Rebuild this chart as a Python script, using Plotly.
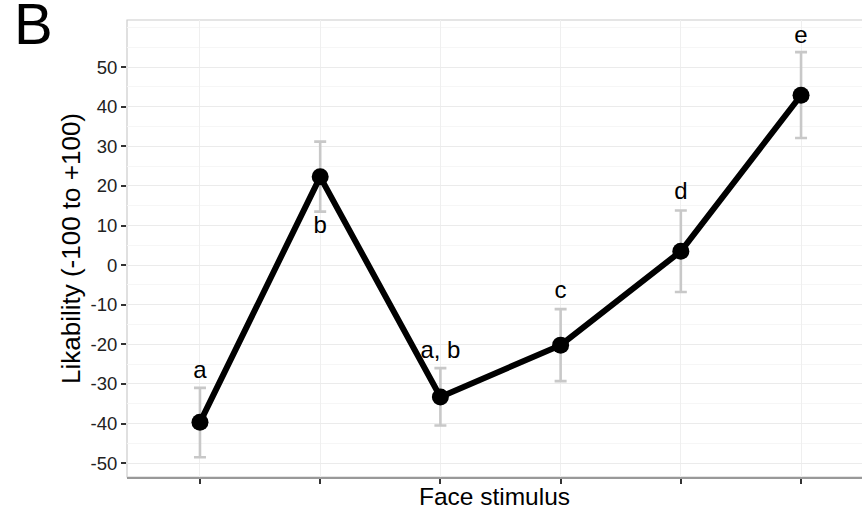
import plotly.graph_objects as go

stimulus = [1, 2, 3, 4, 5, 6]
likability = [-39.7, 22.3, -33.3, -20.2, 3.5, 42.9]
err_plus = [8.7, 8.9, 7.3, 9.1, 10.3, 10.9]
err_minus = [8.8, 8.8, 7.2, 9.1, 10.3, 10.8]
letters = ["a", "b", "a, b", "c", "d", "e"]
letter_y = [-27.0, 9.6, -22.0, -6.8, 18.2, 57.5]

FONT = "Liberation Sans, Arial, Helvetica, sans-serif"

fig = go.Figure()

fig.add_trace(go.Scatter(
    x=stimulus, y=likability, mode="markers",
    marker=dict(size=0.1, color="rgba(0,0,0,0)"),
    error_y=dict(type="data", array=err_plus, arrayminus=err_minus,
                 color="#c8c8c8", thickness=2.6, width=6),
    showlegend=False, hoverinfo="skip"))

fig.add_trace(go.Scatter(
    x=stimulus, y=likability, mode="lines+markers",
    line=dict(color="black", width=6),
    marker=dict(size=17, color="black"),
    showlegend=False))

fig.add_trace(go.Scatter(
    x=stimulus, y=letter_y, mode="text", text=letters,
    textfont=dict(family=FONT, size=24, color="black"),
    textposition="middle center", showlegend=False, hoverinfo="skip"))

fig.add_shape(type="rect", xref="paper", yref="paper", x0=0, x1=1.01, y0=0, y1=1,
              line=dict(color="#cccccc", width=1.2), layer="below")

fig.update_layout(
    width=862, height=512,
    margin=dict(l=127, r=0, t=20, b=35),
    paper_bgcolor="white", plot_bgcolor="white",
    font=dict(family=FONT, color="black"),
    xaxis=dict(range=[0.393, 6.507], tickvals=stimulus, showticklabels=False,
               ticks="outside", ticklen=5, tickwidth=1.5, tickcolor="#333333",
               showgrid=True, gridcolor="#efefef", gridwidth=1,
               showline=True, linecolor="#999999", linewidth=1.5,
               zeroline=False,
               title=dict(text="Face stimulus", font=dict(size=24.5, color="black"),
                          standoff=5)),
    yaxis=dict(range=[-53.5, 61.9], tickvals=[-50, -40, -30, -20, -10, 0, 10, 20, 30, 40, 50],
               ticktext=["-50", "-40", "-30", "-20", "-10", "0", "10", "20", "30", "40", "50"],
               tickfont=dict(size=18.5, color="#222222"),
               ticks="outside", ticklen=5, tickwidth=1.5, tickcolor="#333333",
               showgrid=True, gridcolor="#ebebeb", gridwidth=1,
               minor=dict(dtick=5, tick0=0, showgrid=True, gridcolor="#f6f6f6", gridwidth=1),
               zeroline=False, showline=False,
               title=dict(text="Likability (-100 to +100)", font=dict(size=26, color="black"),
                          standoff=2)),
    annotations=[dict(text="B", xref="paper", yref="paper", x=-0.127, y=0.993,
                      xanchor="center", yanchor="middle", showarrow=False,
                      font=dict(size=58, color="black", family=FONT))],
)

fig.write_html("out.html")
